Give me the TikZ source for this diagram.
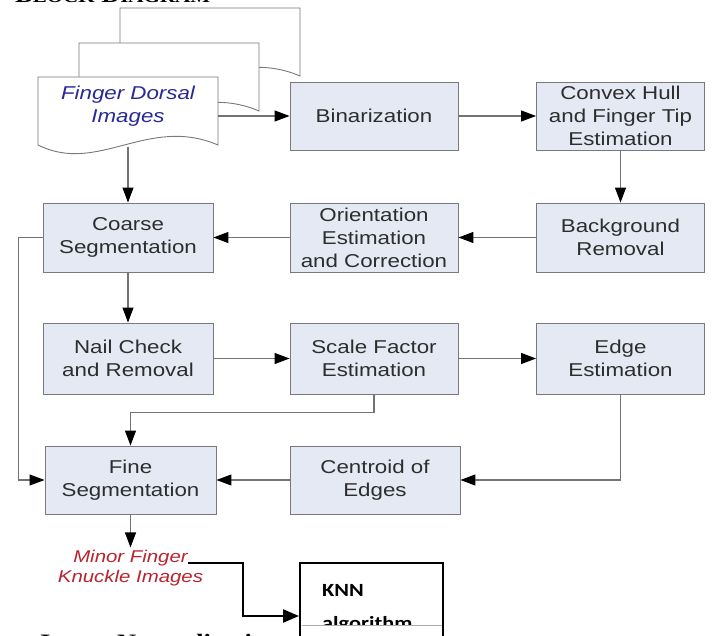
\documentclass[tikz,border=0pt]{standalone}
\usepackage{fontspec}
\setmainfont{Liberation Sans}[FakeStretch=1.2]
\newfontfamily\serifb{Liberation Serif}[FakeStretch=1.2]
\newfontfamily\calib{Carlito}[FakeStretch=1.2]
\usetikzlibrary{arrows.meta}
\definecolor{boxfill}{RGB}{228,233,244}
\definecolor{boxborder}{RGB}{120,120,125}
\definecolor{boxtext}{RGB}{45,45,45}
\definecolor{lineg}{RGB}{115,115,115}
\definecolor{docblue}{RGB}{40,40,150}
\definecolor{minorred}{RGB}{185,35,45}
\tikzset{
  box/.style={draw=boxborder, fill=boxfill, line width=0.9pt, minimum width=168pt,
    minimum height=68pt, inner sep=0pt, align=center, text=boxtext,
    font=\fontsize{18.6}{23}\selectfont},
  conn/.style={draw=lineg, line width=1.1pt, -{Triangle[length=15pt,width=11pt,black]}},
  bigconn/.style={draw=black, line width=2.4pt, -{Triangle[length=16pt,width=13pt,black]}},
  docshape/.style={draw=boxborder, line width=0.9pt, fill=white},
}
\begin{document}
\begin{tikzpicture}[x=1pt,y=-1pt]
\useasboundingbox (0,0) rectangle (715,636);
\clip (0,0) rectangle (715,636);
% title (cut off at top)
\node[anchor=base west, inner sep=0, font=\serifb\bfseries\fontsize{22}{22}\selectfont] (title) at (15,2.5)
  {B{\fontsize{17.5}{17.5}\selectfont LOCK} D{\fontsize{17.5}{17.5}\selectfont IAGRAM}};
% document stack
\foreach \dx/\dy in {120/8, 79/43, 38/77}
  \draw[docshape, shift={(\dx,\dy)}] (0,0) -- (0,68) .. controls (60,98) and (110,38) .. (180,68) -- (180,0) -- cycle;
\node[font=\itshape\fontsize{18.6}{23}\selectfont, text=docblue, align=center, inner sep=0] (doc) at (128,106) {Finger Dorsal\\Images};
\coordinate (docR) at (218,116);
\coordinate (docB) at (128,147);
% boxes
\node[box] (bin) at (374,116) {Binarization};
\node[box] (hull) at (620.5,116) {Convex Hull\\and Finger Tip\\Estimation};
\node[box, minimum height=69pt] (bg) at (620.5,237.5) {Background\\Removal};
\node[box, minimum height=69pt] (orient) at (374,237.5) {Orientation\\Estimation\\and Correction};
\node[box, minimum width=170pt, minimum height=69pt] (coarse) at (128,237.5) {Coarse\\Segmentation};
\node[box, minimum width=170pt, minimum height=71pt] (nail) at (128,358.5) {Nail Check\\and Removal};
\node[box, minimum height=71pt] (scale) at (374,358.5) {Scale Factor\\Estimation};
\node[box, minimum height=71pt] (edge) at (620.5,358.5) {Edge\\Estimation};
\node[box, minimum width=171pt] (fine) at (130.5,480) {Fine\\Segmentation};
\node[box, minimum width=170pt] (cent) at (375,480) {Centroid of\\Edges};
\node[font=\itshape\fontsize{17}{20}\selectfont, text=minorred, align=center, inner sep=0, anchor=north] (minor) at (130.5,550) {Minor Finger\\Knuckle Images};
\coordinate (mend) at (188,563);
% connectors
\draw[conn] (docR) -- (bin.west);
\draw[conn] (bin.east) -- (hull.west);
\draw[conn] (hull.south) -- (bg.north);
\draw[conn] (bg.west) -- (orient.east);
\draw[conn] (orient.west) -- (coarse.east);
\draw[conn] (docB) -- (coarse.north);
\draw[conn] (coarse.south) -- (nail.north);
\draw[conn] (nail.east) -- (scale.west);
\draw[conn] (scale.east) -- (edge.west);
\draw[conn] (scale.south) -- ++(0,18) -| (fine.north);
\draw[conn] (coarse.west) -- ++(-24,0) |- (fine.west);
\draw[conn] (edge.south) |- (cent.east);
\draw[conn] (cent.west) -- (fine.east);
\draw[conn] (fine.south) -- ++(0,33);
% bottom caption (cut off)
\begin{scope}
\clip (0,600) rectangle (262,636);
\node[anchor=base west, inner sep=0, font=\serifb\bfseries\fontsize{22}{22}\selectfont] (norm) at (40,649) {Image Normalization};
\end{scope}
% KNN box
\node[draw=black, line width=2pt, fill=white, minimum width=143pt, minimum height=106pt, inner sep=0] (knn) at (371.5,616) {};
\draw[bigconn] (mend) -- ++(55,0) |- (knn.west);
\begin{scope}
\clip (300,560) rectangle (443,625.5);
\node[anchor=base west, inner sep=0, font=\calib\bfseries\fontsize{18.6}{22}\selectfont] (knn1) at (322,596) {KNN};
\node[anchor=base west, inner sep=0, font=\calib\bfseries\fontsize{18.6}{22}\selectfont] (knn2) at (322,629) {algorithm};
\end{scope}
\draw[lineg!60, line width=0.6pt] (301.5,625.5) -- (441.5,625.5);
\end{tikzpicture}
\end{document}
